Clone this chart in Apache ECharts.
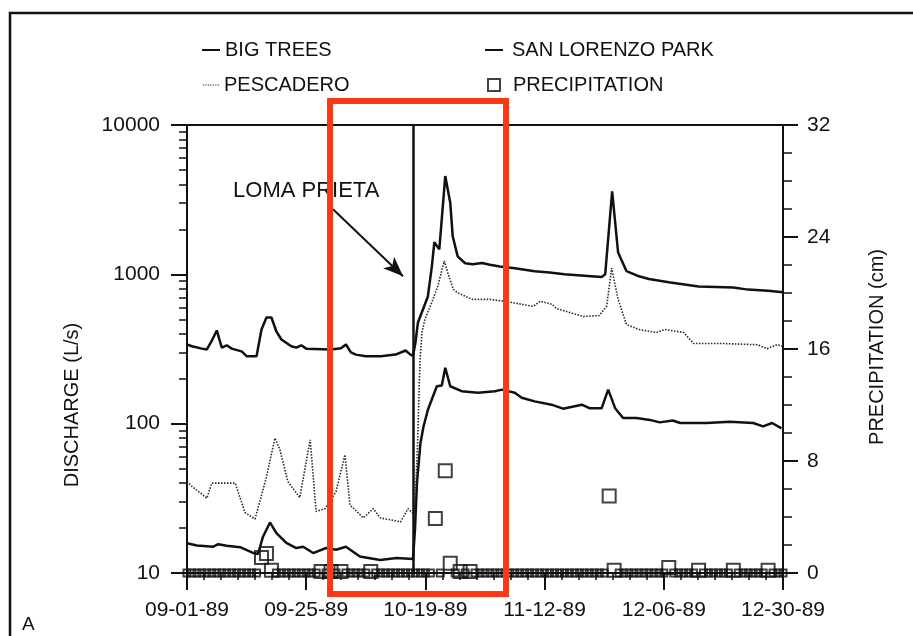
<!DOCTYPE html>
<html>
<head>
<meta charset="utf-8">
<script src="https://cdn.jsdelivr.net/npm/echarts@6/dist/echarts.min.js"></script>
<style>
  html, body { margin: 0; padding: 0; background: #fff; }
  #chart { width: 913px; height: 636px; }
</style>
</head>
<body>
<div id="chart"></div>
<script>
// Days are counted from 09-01-89 (day 0) to 12-30-89 (day 120).
const dateLabels = ['09-01-89', '09-25-89', '10-19-89', '11-12-89', '12-06-89', '12-30-89'];

// Daily mean discharge, L/s: [day, value]
const bigTrees = [
  [0,339],[1,330],[3,318],[4,314],[5,360],[6,421],[7,323],[8,335],[9,318],[11,305],[12,283],[14,283],
  [15,427],[16,514],[17,514],[18,414],[19,366],[21,330],[22,323],[23,335],[24,318],[29,314],[31,320],
  [32,339],[33,300],[34,290],[36,283],[39,283],[42,290],[44,309],[45,290],[45.5,285],[46,350],[46.5,476],
  [47.5,582],[48.5,711],[49.3,1132],[49.8,1640],[50.8,1470],[52,4550],[53,3020],[53.5,1800],[54.5,1320],
  [56,1186],[57.5,1170],[59.4,1190],[61,1160],[63,1130],[66,1100],[70,1050],[73,1030],[76,1000],[80,980],
  [83.5,960],[84.2,1000],[85.6,3600],[86.8,1400],[88.5,1050],[91,970],[93,930],[97,885],[103,830],
  [110,815],[113,790],[117,775],[120,760]
];
const sanLorenzoPark = [
  [0,15.8],[2,15.3],[5.3,15],[6.3,15.6],[8,15.2],[10.7,14.9],[13.4,13.6],[14.3,13.4],[15.3,17.5],
  [16.7,21.8],[18,18.5],[20,15.9],[22,14.7],[23.4,15],[25.4,13.6],[28,14.7],[30,14.3],[32,15],
  [34.8,12.9],[38.9,12.2],[42.2,12.6],[45.5,12.4],[45.9,19.5],[46.3,40],[47,74],[47.6,95],[48.5,124],
  [50.3,178],[51.3,180],[52,237],[53,178],[55.3,165],[58.6,161],[62,165],[63.4,169],[66,161],[67.4,149],
  [70,141],[73.4,134],[75.7,126],[79.5,134],[81,127],[83.5,127],[84.8,169],[86.2,127],[87.8,109],
  [90.5,109],[93.2,106],[95.2,102],[97.8,105],[99.3,101],[104.6,101],[109.3,103],[114,101],[116,96],
  [117.8,101],[119.7,93]
];
const pescadero = [
  [0,41],[1,38],[4,31.7],[5,40],[7,40],[9.7,40],[11.7,25.3],[13.7,23],[16,44],[17.7,80],[18.7,67],
  [20.3,41],[22.7,32],[24.8,78],[26,25.8],[27.8,27],[30,35],[31.8,62],[32.8,28.6],[35.5,23.4],[37.5,27],
  [38.9,23.4],[43,22],[44.5,27],[45.5,25],[45.9,28],[46.4,70],[46.9,257],[47.3,408],[47.9,500],
  [49.3,650],[50.5,835],[51.8,1230],[52.5,1030],[53.6,795],[54.6,750],[57.4,680],[61,680],[64,660],
  [67.4,630],[69.7,610],[71.1,660],[73.5,630],[74.4,590],[79.8,522],[83,530],[84.5,612],[85.5,1100],
  [86.8,680],[88.5,461],[91,427],[94.5,408],[96.2,427],[100,408],[102,344],[108,344],[114.8,338],
  [116.8,318],[118.8,338],[120,330]
];

// Daily precipitation, cm, one value per day from day 0 to day 120
const precipitation = [
  0,0,0,0,0,0,0,0,0,0,           // 0-9
  0,0,0,0,0,1.1,1.4,0.2,0,0,     // 10-19
  0,0,0,0,0,0,0,0.1,0,0.1,       // 20-29
  0,0.1,0,0,0,0,0,0.1,0,0,       // 30-39
  0,0,0,0,0,0,0,0,0,0,           // 40-49
  3.9,0,7.3,0.7,0,0.1,0,0.1,0,0, // 50-59
  0,0,0,0,0,0,0,0,0,0,           // 60-69
  0,0,0,0,0,0,0,0,0,0,           // 70-79
  0,0,0,0,0,5.5,0.2,0,0,0,       // 80-89
  0,0,0,0,0,0,0,0.4,0,0,         // 90-99
  0,0,0,0.2,0,0,0,0,0,0,         // 100-109
  0.2,0,0,0,0,0,0,0.2,0,0,       // 110-119
  0                              // 120
];

// Earthquake (Loma Prieta) and the annotation arrow, in data units
const quakeDay = 45.5;
const quakeLabel = 'LOMA PRIETA';
const quakeLabelAt = [24, 3600];
const arrowFrom = [29.4, 2730];
const arrowTo = [43.5, 970];

// Intermediate decade ticks for the logarithmic discharge axis
const dischargeMinorTicks = [20,30,40,50,60,70,80,90,200,300,400,500,600,700,800,900,2000,3000,4000,5000,6000,7000,8000,9000];

const FONT = 'Liberation Sans, Arial, Helvetica, sans-serif';
const ink = '#111';
const dotGrey = '#262626';

// Legend glyphs: a short bar for solid lines, a row of dots for the dotted line
const solidIcon = 'rect';
const dottedIcon = 'path://M0,0h1v1h-1z M2,0h1v1h-1z M4,0h1v1h-1z M6,0h1v1h-1z M8,0h1v1h-1z M10,0h1v1h-1z M12,0h1v1h-1z';

const chart = echarts.init(document.getElementById('chart'), null, { renderer: 'canvas' });

const lineItem = (name, data, style) => ({
  name, type: 'line', data, symbol: 'none', smooth: false,
  xAxisIndex: 0, yAxisIndex: 0,
  lineStyle: style, itemStyle: { color: style.color },
  emphasis: { disabled: true }, animation: false, z: 3
});

const legendText = { fontFamily: FONT, fontSize: 20, color: ink };
const legendBase = { orient: 'horizontal', itemWidth: 18, itemHeight: 2, selectedMode: false, textStyle: legendText };

const option = {
  backgroundColor: '#fff',
  animation: false,
  grid: { left: 187, right: 130, top: 125, bottom: 63, show: true, borderColor: ink, borderWidth: 2, backgroundColor: 'transparent' },
  legend: [
    Object.assign({}, legendBase, { data: [{ name: 'BIG TREES', icon: solidIcon }], left: 197, top: 35 }),
    Object.assign({}, legendBase, { data: [{ name: 'PESCADERO', icon: dottedIcon }], itemWidth: 16, left: 198, top: 70 }),
    Object.assign({}, legendBase, { data: [{ name: 'SAN LORENZO PARK', icon: solidIcon }], left: 480, top: 35,
      textStyle: Object.assign({}, legendText, { padding: [0, 0, 0, 4] }) }),
    Object.assign({}, legendBase, { data: [{ name: 'PRECIPITATION', icon: 'rect' }], left: 482, top: 70, itemWidth: 12, itemHeight: 12,
      textStyle: Object.assign({}, legendText, { padding: [0, 0, 0, 8] }) })
  ],
  xAxis: [{
    type: 'value', min: 0, max: 120, interval: 24,
    axisLine: { show: true, lineStyle: { color: ink, width: 2 } },
    axisTick: { show: true, length: 17, lineStyle: { color: ink, width: 2 } },
    minorTick: { show: true, splitNumber: 7, length: 7, lineStyle: { color: ink, width: 1.5 } },
    axisLabel: { fontFamily: FONT, fontSize: 21, color: ink, margin: 27,
      formatter: v => dateLabels[Math.round(v / 24)] || '' },
    splitLine: { show: false }, minorSplitLine: { show: false }
  }],
  yAxis: [{
    type: 'log', logBase: 10, min: 10, max: 10000, position: 'left',
    axisLine: { show: true, lineStyle: { color: ink, width: 2 } },
    axisTick: { show: true, length: 16, lineStyle: { color: ink, width: 2 } },
    axisLabel: { fontFamily: FONT, fontSize: 21, color: ink, margin: 27, formatter: v => String(Math.round(v)) },
    splitLine: { show: false }
  }, {
    type: 'value', min: 0, max: 32, interval: 8, position: 'right',
    axisLine: { show: true, lineStyle: { color: ink, width: 2 } },
    axisTick: { show: true, length: 15, lineStyle: { color: ink, width: 2 } },
    minorTick: { show: true, splitNumber: 4, length: 9, lineStyle: { color: ink, width: 1.5 } },
    axisLabel: { fontFamily: FONT, fontSize: 21, color: ink, margin: 24 },
    splitLine: { show: false }, minorSplitLine: { show: false }
  }, {
    type: 'log', logBase: 10, min: 10, max: 10000, position: 'left', offset: 0,
    axisLine: { show: false },
    axisTick: { show: true, length: 8, customValues: dischargeMinorTicks, lineStyle: { color: ink, width: 1.5 } },
    axisLabel: { show: false },
    splitLine: { show: false }
  }],
  series: [
    Object.assign(lineItem('BIG TREES', bigTrees, { color: ink, width: 2.5, type: 'solid' }), {
      markLine: {
        silent: true, symbol: 'none', animation: false,
        label: { show: false },
        lineStyle: { color: ink, width: 2.5, type: 'solid' },
        emphasis: { disabled: true },
        data: [{ xAxis: quakeDay }]
      }
    }),
    lineItem('SAN LORENZO PARK', sanLorenzoPark, { color: ink, width: 2.5, type: 'solid' }),
    Object.assign(lineItem('PESCADERO', pescadero, { color: dotGrey, width: 1.6, type: [1.5, 1.5] }), {
      markLine: {
        silent: true, animation: false,
        label: { show: false },
        lineStyle: { color: ink, width: 2, type: 'solid' },
        emphasis: { disabled: true },
        data: [[
          { coord: arrowFrom, symbol: 'none' },
          { coord: arrowTo, symbol: 'arrow', symbolSize: [12, 20] }
        ]]
      }
    }),
    {
      name: 'PRECIPITATION', type: 'scatter', xAxisIndex: 0, yAxisIndex: 1,
      data: precipitation.map((v, i) => [i, v]),
      symbol: 'rect',
      symbolSize: (val) => val[1] > 0 ? 13 : 7,
      itemStyle: { color: 'rgba(255,255,255,0)', borderColor: ink, borderWidth: 2 },
      emphasis: { disabled: true }, z: 4, animation: false
    }
  ]
};

chart.setOption(option);

// Place annotation text from data coordinates
const labelPx = chart.convertToPixel({ xAxisIndex: 0, yAxisIndex: 0 }, quakeLabelAt);

chart.setOption({
  graphic: [
    { type: 'polyline', silent: true, z: 10,
      shape: { points: [[10, 636], [10, 13], [913, 13]] },
      style: { stroke: ink, lineWidth: 2.5, fill: null } },
    { type: 'text', silent: true, left: 22, top: 615,
      style: { text: 'A', fontFamily: FONT, fontSize: 19, fill: ink } },
    { type: 'text', silent: true, x: 72, y: 405, rotation: Math.PI / 2,
      style: { text: 'DISCHARGE (L/s)', fontFamily: FONT, fontSize: 20, fill: ink, align: 'center', verticalAlign: 'middle' } },
    { type: 'text', silent: true, x: 877, y: 347, rotation: Math.PI / 2,
      style: { text: 'PRECIPITATION (cm)', fontFamily: FONT, fontSize: 20, fill: ink, align: 'center', verticalAlign: 'middle' } },
    { type: 'text', silent: true, x: labelPx[0], y: labelPx[1],
      style: { text: quakeLabel, fontFamily: FONT, fontSize: 22, fill: ink, align: 'center', verticalAlign: 'middle' } },
    { type: 'rect', silent: true, z: 100,
      shape: { x: 330, y: 101, width: 176, height: 493 },
      style: { stroke: '#FA3A14', lineWidth: 6, fill: null } }
  ]
});
</script>
</body>
</html>
